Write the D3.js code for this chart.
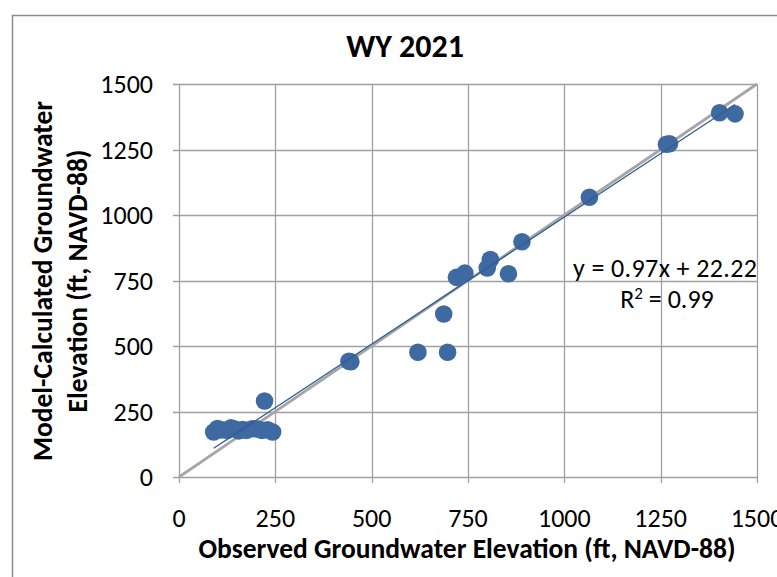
<!DOCTYPE html>
<html>
<head>
<meta charset="utf-8">
<script src="https://cdn.jsdelivr.net/npm/d3@7"></script>
<style>
    body { margin: 0; background: #fff; }
    text { font-family: Carlito, Lato, 'Open Sans', sans-serif; fill: #000; }
</style>
</head>
<body>
<svg width="777" height="577"></svg>
<script>
// observed vs model-calculated groundwater elevation, WY 2021
var observed = [90, 100, 110, 125, 135, 145, 155, 165, 175, 190, 205, 215, 230, 243,
    222, 441, 446, 620, 687, 697, 720, 742, 800, 808, 855, 890, 1065, 1265, 1273, 1403, 1443];
var modeled = [172, 185, 180, 178, 188, 183, 176, 181, 178, 184, 183, 178, 180, 172,
    290, 442, 440, 476, 622, 476, 762, 778, 798, 830, 776, 898, 1068, 1270, 1272, 1390, 1386];
var tickValues = [0, 250, 500, 750, 1000, 1250, 1500];
var trendSlope = 0.97;
var trendIntercept = 22.22;

var svg = d3.select('svg');
var plotLeft = 179, plotRight = 757, plotTop = 84, plotBottom = 477;

var x = d3.scaleLinear().domain([0, 1500]).range([plotLeft, plotRight]);
var y = d3.scaleLinear().domain([0, 1500]).range([plotBottom, plotTop]);

// chart frame
svg.append('rect')
    .attr('x', 12.5).attr('y', 15.5)
    .attr('width', 900).attr('height', 700)
    .attr('fill', 'none').attr('stroke', '#8c8c8c').attr('stroke-width', 1.5);

// gridlines (with the little outside ticks)
svg.append('g').selectAll('line').data(tickValues).enter().append('line')
    .attr('x1', d => Math.round(x(d)) + 0.5).attr('x2', d => Math.round(x(d)) + 0.5)
    .attr('y1', plotTop).attr('y2', plotBottom + 6)
    .attr('stroke', '#a0a0a0').attr('stroke-width', 1.3);
svg.append('g').selectAll('line').data(tickValues).enter().append('line')
    .attr('y1', d => Math.round(y(d)) + 0.5).attr('y2', d => Math.round(y(d)) + 0.5)
    .attr('x1', plotLeft - 6).attr('x2', plotRight)
    .attr('stroke', '#a0a0a0').attr('stroke-width', 1.3);

// tick labels
svg.append('g').selectAll('text').data(tickValues).enter().append('text')
    .attr('x', d => x(d)).attr('y', plotBottom + 50)
    .attr('text-anchor', 'middle').style('font-size', '26px')
    .text(d => d);
svg.append('g').selectAll('text').data(tickValues).enter().append('text')
    .attr('x', 153).attr('y', d => y(d) + 9)
    .attr('text-anchor', 'end').style('font-size', '26px')
    .text(d => d);

// 1:1 line
svg.append('line')
    .attr('x1', x(0)).attr('y1', y(0)).attr('x2', x(1500)).attr('y2', y(1500))
    .attr('stroke', '#a6a6a6').attr('stroke-width', 2.8);

// points
var pts = observed.map((d, i) => [d, modeled[i]]);
svg.append('g').selectAll('circle').data(pts).enter().append('circle')
    .attr('cx', d => x(d[0])).attr('cy', d => y(d[1])).attr('r', 8.8)
    .attr('fill', '#3e69a1');

// linear trendline
var xMin = d3.min(observed), xMax = d3.max(observed);
svg.append('line')
    .attr('x1', x(xMin)).attr('y1', y(trendSlope * xMin + trendIntercept))
    .attr('x2', x(xMax)).attr('y2', y(trendSlope * xMax + trendIntercept))
    .attr('stroke', '#2f5b95').attr('stroke-width', 1.3);

// equation
svg.append('text').attr('x', 573).attr('y', 277)
    .attr('textLength', 184).attr('lengthAdjust', 'spacing')
    .style('font-size', '26px').text('y = 0.97x + 22.22');
var r2 = svg.append('text').attr('x', 667).attr('y', 308).attr('text-anchor', 'middle')
    .style('font-size', '26px');
r2.append('tspan').text('R');
r2.append('tspan').attr('dy', -9).style('font-size', '17px').text('2');
r2.append('tspan').attr('dy', 9).text(' = 0.99');

// titles
svg.append('text').attr('x', 405).attr('y', 57).attr('text-anchor', 'middle')
    .style('font-size', '32px').style('font-weight', 'bold').text('WY 2021');
svg.append('text').attr('x', 467).attr('y', 558).attr('text-anchor', 'middle')
    .style('font-size', '27.5px').style('font-weight', 'bold')
    .text('Observed Groundwater Elevation (ft, NAVD-88)');
var yt = svg.append('text').attr('transform', 'translate(0,281) rotate(-90)')
    .attr('text-anchor', 'middle').style('font-size', '27.5px').style('font-weight', 'bold');
yt.append('tspan').attr('x', 0).attr('y', 52).text('Model-Calculated Groundwater');
yt.append('tspan').attr('x', 0).attr('y', 87).text('Elevation (ft, NAVD-88)');
</script>
</body>
</html>
